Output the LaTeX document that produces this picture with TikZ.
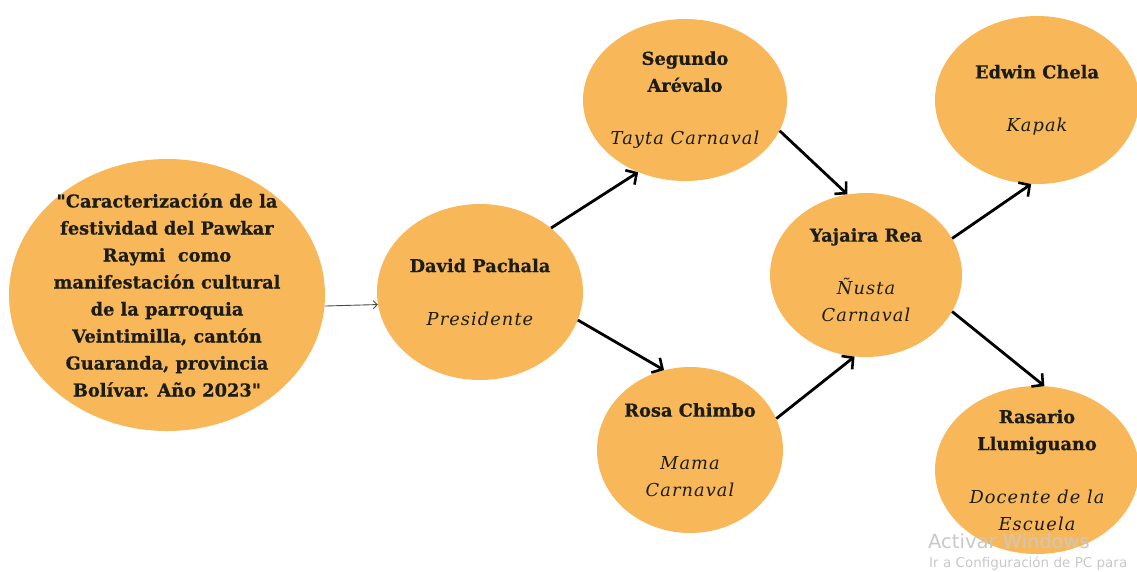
\documentclass[tikz,border=0pt]{standalone}
\usepackage{fontspec}
\setmainfont{DejaVu Serif}[BoldFeatures={FakeBold=0.6}]
\newfontfamily\quotefont{DejaVu Serif}[BoldFeatures={FakeBold=0.6}]
\newfontfamily\winfont{DejaVu Sans}
\usetikzlibrary{positioning,arrows,arrows.meta,calc,shapes.geometric}

\definecolor{peach}{RGB}{248,184,90}
\definecolor{ink}{RGB}{28,28,24}
\definecolor{wmark}{RGB}{200,200,200}

\tikzset{
  person/.style={ellipse, fill=peach, draw=none, inner sep=0pt},
  who/.style={align=center, text=ink, font=\fontsize{17.8}{27}\selectfont},
  link/.style={draw=black, line width=2.8pt, -{Straight Barb[length=8pt,width=17pt,line width=2.6pt]}},
  thin link/.style={draw=black!70, line width=0.9pt, -{Straight Barb[length=4pt,width=8pt]}}
}

\newcommand{\gap}{\\[26pt]}
\newcommand{\rolefont}{\itshape\addfontfeatures{LetterSpace=6}}
\newcommand{\qt}{{\quotefont"}}

\begin{document}
\begin{tikzpicture}[x=1pt,y=-1pt]

  \useasboundingbox (0,0) rectangle (1137,571);

  \node[person] (intro) [minimum width=316pt, minimum height=272pt] at (167,295) {};
  \node[person] (dp) [minimum width=206pt, minimum height=176pt] at (480,292) {};
  \node[person] (sa) [minimum width=204pt, minimum height=162pt] at (685,100) {};
  \node[person] (rc) [minimum width=186pt, minimum height=166pt] at (690,450) {};
  \node[person] (yr) [minimum width=192pt, minimum height=164pt] at (866,275) {};
  \node[person] (ec) [minimum width=204pt, minimum height=168pt] at (1037,100) {};
  \node[person] (rl) [minimum width=204pt, minimum height=168pt] at (1037,470) {};

  \node[who] (intro-txt) at (intro) {\textbf{\qt Caracterización de la}\\\textbf{festividad del Pawkar}\\\textbf{Raymi\ \ como}\\\textbf{manifestación cultural}\\\textbf{de la parroquia}\\\textbf{Veintimilla, cantón}\\\textbf{Guaranda, provincia}\\\textbf{Bolívar. Año 2023\qt}};
  \node[who] (dp-txt) at (dp) {\textbf{David Pachala}\gap{\rolefont Presidente}};
  \node[who] (sa-txt) at (sa) {\textbf{Segundo}\\\textbf{Arévalo}\gap{\rolefont Tayta Carnaval}};
  \node[who] (rc-txt) at (rc) {\textbf{Rosa Chimbo}\gap{\rolefont Mama}\\{\rolefont Carnaval}};
  \node[who] (yr-txt) at (yr) {\textbf{Yajaira Rea}\gap{\rolefont Ñusta}\\{\rolefont Carnaval}};
  \node[who] (ec-txt) at (ec) {\textbf{Edwin Chela}\gap{\rolefont Kapak}};
  \node[who] (rl-txt) at (rl) {\textbf{Rasario}\\\textbf{Llumiguano}\gap{\rolefont Docente de la}\\{\rolefont Escuela}};

  \draw[thin link] (intro.-4) -- (dp.187);
  \draw[link] (dp.42) -- (sa.237);
  \draw[link] (dp.-16) -- (rc.108);
  \draw[link] (sa.-18) -- (yr.103);
  \draw[link] (rc.20) -- (yr.262);
  \draw[link] (yr.23) -- (ec.266);
  \draw[link] (yr.-23) -- (rl.85);

  % screen watermark
  \node[anchor=base west, text=wmark, font=\winfont\fontsize{19.5}{22}\selectfont, inner sep=0pt] (wm1) at (928,548) {Activar Windows};
  \node[anchor=base west, text=wmark, font=\winfont\fontsize{13.5}{16}\selectfont, inner sep=0pt] (wm2) at (929,567) {Ir a Configuración de PC para};

\end{tikzpicture}
\end{document}
